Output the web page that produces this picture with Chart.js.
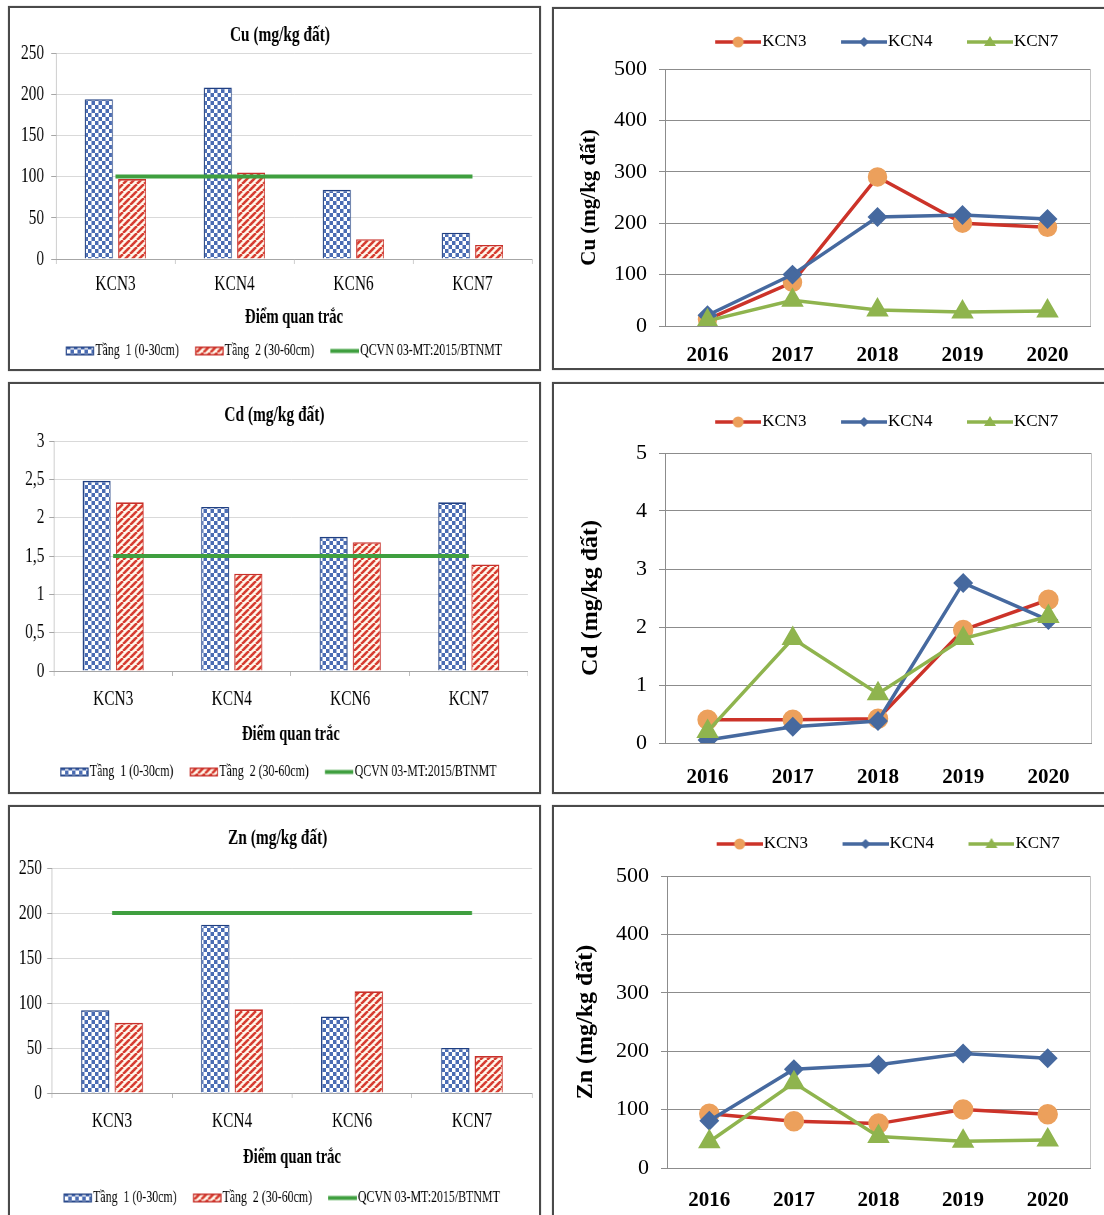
<!DOCTYPE html>
<html lang="vi">
<head>
<meta charset="utf-8">
<title>Hàm lượng Cu, Cd, Zn trong đất các KCN</title>
<script src="https://cdn.jsdelivr.net/npm/chart.js@4.4.1/dist/chart.umd.min.js"></script>
<style>
  html, body { margin: 0; padding: 0; background: #fff; width: 1104px; height: 1215px; overflow: hidden; }
  .panel { position: absolute; box-sizing: border-box; border: 2px solid #4a4a4a; box-shadow: 0 0 1px #9a9a9a; background: #fff; }
  canvas { position: absolute; }
  /* the layer charts use a narrow lettering: drawn wide, then condensed */
  canvas.narrow { transform: scaleX(0.7); transform-origin: 0 0; }
</style>
</head>
<body>
<div class="panel" style="left:8px;top:6px;width:533px;height:365px"></div>
<div class="panel" style="left:552px;top:7px;width:560px;height:363px"></div>
<div class="panel" style="left:8px;top:382px;width:533px;height:412px"></div>
<div class="panel" style="left:552px;top:382px;width:560px;height:412px"></div>
<div class="panel" style="left:8px;top:805px;width:533px;height:430px"></div>
<div class="panel" style="left:552px;top:805px;width:560px;height:430px"></div>

<canvas id="cuBar" class="narrow" width="764" height="361" style="left:11px;top:9px"></canvas>
<canvas id="cuTrend" width="635" height="376" style="left:553px;top:9px"></canvas>
<canvas id="cdBar" class="narrow" width="739" height="406" style="left:11px;top:385px"></canvas>
<canvas id="cdTrend" width="635" height="428" style="left:553px;top:384px"></canvas>
<canvas id="znBar" class="narrow" width="758" height="409" style="left:11px;top:808px"></canvas>
<canvas id="znTrend" width="638" height="425" style="left:553px;top:808px"></canvas>

<script>
const SERIF = "'Liberation Serif', 'Times New Roman', Times, serif";

// monitoring sites and years
const sites = ['KCN3', 'KCN4', 'KCN6', 'KCN7'];
const years = ['2016', '2017', '2018', '2019', '2020'];

// content by soil layer at each site (mg/kg soil)
const cuLayer1 = [194, 208, 84, 32];
const cuLayer2 = [97, 105, 24, 17];
const cuLimit  = [100, 100, 100, 100];
const cdLayer1 = [2.48, 2.14, 1.75, 2.20];
const cdLayer2 = [2.20, 1.27, 1.68, 1.39];
const cdLimit  = [1.5, 1.5, 1.5, 1.5];
const znLayer1 = [92, 187, 85, 50];
const znLayer2 = [78, 93, 113, 41];
const znLimit  = [200, 200, 200, 200];

// yearly values per site (mg/kg soil)
const cuKCN3 = [13, 85, 290, 200, 192];
const cuKCN4 = [21, 100, 212, 216, 208];
const cuKCN7 = [10, 50, 31, 27, 29];
const cdKCN3 = [0.40, 0.40, 0.42, 1.95, 2.47];
const cdKCN4 = [0.05, 0.28, 0.38, 2.76, 2.12];
const cdKCN7 = [0.20, 1.80, 0.85, 1.80, 2.18];
const znKCN3 = [93, 80, 76, 100, 92];
const znKCN4 = [81, 169, 177, 196, 188];
const znKCN7 = [45, 146, 54, 46, 48];

// legend texts
const layerNames = ['Tầng  1 (0-30cm)', 'Tầng  2 (30-60cm)', 'QCVN 03-MT:2015/BTNMT'];
const trendNames = ['KCN3', 'KCN4', 'KCN7'];

const BLUE_EDGE = '#1f3f82', BLUE_CELL = '#4a6cb3';
const RED_EDGE = '#c8302a', RED_STRIPE = '#d63b2f', CREAM = '#fff8ec';
const LIMIT_GREEN = '#3f9f3f';
const LINE_RED = '#cc3329', DOT_ORANGE = '#eca05c';
const LINE_BLUE = '#46699f', LINE_GREEN = '#8fb44e';

// fills for the condensed layer charts (tiles are drawn wide to stay square once condensed)
function checker(ctx) {
  const t = document.createElement('canvas'); t.width = 10; t.height = 8;
  const g = t.getContext('2d');
  g.fillStyle = '#ffffff'; g.fillRect(0, 0, 10, 8);
  g.fillStyle = BLUE_CELL; g.fillRect(0, 0, 5, 4); g.fillRect(5, 4, 5, 4);
  return ctx.createPattern(t, 'repeat');
}
function hatch(ctx) {
  const t = document.createElement('canvas'); t.width = 10; t.height = 7;
  const g = t.getContext('2d');
  g.fillStyle = CREAM; g.fillRect(0, 0, 10, 7);
  g.strokeStyle = RED_STRIPE; g.lineWidth = 3.0;
  for (let k = -1; k <= 1; k++) {
    g.beginPath(); g.moveTo(k * 10, 7); g.lineTo(k * 10 + 10, 0); g.stroke();
  }
  return ctx.createPattern(t, 'repeat');
}

// legend keys (the key sits in the right part so the text follows it closely)
function barKey(kind) {
  const c = document.createElement('canvas'); c.width = 59; c.height = 11;
  const g = c.getContext('2d');
  if (kind === 'line') {
    g.strokeStyle = LIMIT_GREEN; g.lineWidth = 4;
    g.beginPath(); g.moveTo(18, 5.5); g.lineTo(59, 5.5); g.stroke();
  } else {
    g.fillStyle = kind === 'checker' ? checker(g) : hatch(g);
    g.fillRect(19, 1.75, 39, 7.5);
    g.strokeStyle = kind === 'checker' ? BLUE_EDGE : RED_EDGE; g.lineWidth = 1.5;
    g.strokeRect(19, 1.75, 39, 7.5);
  }
  return c;
}
function trendKey(color, dot, shape) {
  const c = document.createElement('canvas'); c.width = 76; c.height = 20;
  const g = c.getContext('2d');
  g.strokeStyle = color; g.lineWidth = 3.5;
  g.beginPath(); g.moveTo(30, 10); g.lineTo(76, 10); g.stroke();
  g.fillStyle = dot;
  g.beginPath();
  if (shape === 'circle') g.arc(53, 10, 5.5, 0, Math.PI * 2);
  else if (shape === 'diamond') { g.moveTo(53, 5); g.lineTo(58, 10); g.lineTo(53, 15); g.lineTo(48, 10); g.closePath(); }
  else { g.moveTo(53, 4); g.lineTo(59, 14); g.lineTo(47, 14); g.closePath(); }
  g.fill();
  return c;
}

const barKeys = [barKey('checker'), barKey('hatch'), barKey('line')];
const trendKeys = [
  trendKey(LINE_RED, DOT_ORANGE, 'circle'),
  trendKey(LINE_BLUE, LINE_BLUE, 'diamond'),
  trendKey(LINE_GREEN, LINE_GREEN, 'triangle')
];

Chart.defaults.font.family = SERIF;
Chart.defaults.color = '#000';

const plotEdge = {
  id: 'plotEdge',
  beforeDatasetsDraw(chart) {
    const { ctx, chartArea: a } = chart;
    ctx.save();
    ctx.strokeStyle = '#c4c4c4'; ctx.lineWidth = 1;
    ctx.beginPath(); ctx.moveTo(a.right + 0.5, a.top); ctx.lineTo(a.right + 0.5, a.bottom); ctx.stroke();
    ctx.restore();
  }
};

function gutterAxis(w) {
  return {
    type: 'linear', position: 'right', display: true,
    grid: { display: false, drawTicks: false }, border: { display: false },
    ticks: { display: false },
    afterFit(s) { s.width = w; }
  };
}

function barChart(id, o) {
  const ctx = document.getElementById(id).getContext('2d');
  return new Chart(ctx, {
    type: 'bar',
    data: {
      labels: sites,
      datasets: [
        { label: layerNames[0], data: o.layer1, backgroundColor: checker(ctx), borderColor: BLUE_EDGE, borderWidth: 1.6,
          categoryPercentage: 0.56, barPercentage: 0.84, order: 1, xAxisID: 'x', yAxisID: 'y' },
        { label: layerNames[1], data: o.layer2, backgroundColor: hatch(ctx), borderColor: RED_EDGE, borderWidth: 1.6,
          categoryPercentage: 0.56, barPercentage: 0.84, order: 1, xAxisID: 'x', yAxisID: 'y' },
        { type: 'line', label: layerNames[2], data: o.limit, borderColor: LIMIT_GREEN, borderWidth: 4,
          pointRadius: 0, fill: false, order: 0, xAxisID: 'x', yAxisID: 'y' }
      ]
    },
    options: {
      responsive: false, animation: false, devicePixelRatio: 1, events: [],
      layout: { padding: o.pad },
      plugins: {
        title: { display: true, text: o.title, color: '#000',
          font: { family: SERIF, size: 22, weight: 'bold' }, padding: o.titlePad },
        legend: {
          position: 'bottom',
          labels: {
            usePointStyle: true, pointStyleWidth: 45, padding: 12, color: '#000',
            font: { family: SERIF, size: 17 },
            generateLabels: (chart) => chart.data.datasets.map((ds, i) => ({
              text: ds.label, pointStyle: barKeys[i], fillStyle: '#fff', strokeStyle: '#fff',
              lineWidth: 0, hidden: false, datasetIndex: i
            }))
          }
        },
        tooltip: { enabled: false }
      },
      scales: {
        x: {
          grid: { display: true, drawOnChartArea: false, drawTicks: true, tickLength: 5, color: '#a6a6a6' },
          border: { color: '#a6a6a6' },
          ticks: { padding: o.xTickPad, font: { family: SERIF, size: 22 }, color: '#000' },
          title: { display: true, text: 'Điểm quan trắc', color: '#000',
            font: { family: SERIF, size: 21, weight: 'bold' }, padding: o.xTitlePad }
        },
        y: {
          min: 0, max: o.max,
          ticks: { stepSize: o.step, padding: o.yTickPad, font: { family: SERIF, size: 22 }, color: '#000',
            callback: (v) => String(v).replace('.', ',') },
          grid: { color: '#d9d9d9', tickColor: '#a6a6a6', tickLength: 7 },
          border: { color: '#a6a6a6' }
        },
        gutter: gutterAxis(o.gutter)
      }
    }
  });
}

function lineChart(id, o) {
  const ctx = document.getElementById(id).getContext('2d');
  const common = { borderWidth: 3.5, tension: 0, fill: false, xAxisID: 'x', yAxisID: 'y' };
  return new Chart(ctx, {
    type: 'line',
    data: {
      labels: years,
      datasets: [
        Object.assign({ label: trendNames[0], data: o.kcn3, borderColor: LINE_RED, backgroundColor: DOT_ORANGE,
          pointBackgroundColor: DOT_ORANGE, pointBorderColor: DOT_ORANGE, pointStyle: 'circle', pointRadius: o.dot, order: 3 }, common),
        Object.assign({ label: trendNames[1], data: o.kcn4, borderColor: LINE_BLUE, backgroundColor: LINE_BLUE,
          pointBackgroundColor: LINE_BLUE, pointBorderColor: LINE_BLUE, pointStyle: 'rectRot', pointRadius: 7.5, order: 2 }, common),
        Object.assign({ label: trendNames[2], data: o.kcn7, borderColor: LINE_GREEN, backgroundColor: LINE_GREEN,
          pointBackgroundColor: LINE_GREEN, pointBorderColor: LINE_GREEN, pointStyle: 'triangle', pointRadius: 9.5, order: 1 }, common)
      ]
    },
    options: {
      responsive: false, animation: false, devicePixelRatio: 1, events: [],
      layout: { padding: { left: 10, top: o.top, right: 0, bottom: 0 } },
      plugins: {
        legend: {
          position: 'top', weight: 3000,
          labels: {
            usePointStyle: true, pointStyleWidth: 61, padding: 12, color: '#000',
            font: { family: SERIF, size: 17 },
            generateLabels: (chart) => chart.data.datasets.map((ds, i) => ({
              text: ds.label, pointStyle: trendKeys[i], fillStyle: ds.borderColor, strokeStyle: ds.borderColor,
              lineWidth: 0, hidden: false, datasetIndex: i
            }))
          }
        },
        subtitle: { display: true, text: '', font: { size: 1, lineHeight: 1 }, padding: { top: o.gap, bottom: 0 } },
        title: { display: false },
        tooltip: { enabled: false }
      },
      scales: {
        x: {
          offset: true,
          grid: { display: false, drawTicks: false },
          border: { color: '#8c8c8c' },
          ticks: { padding: o.xTickPad, font: { family: SERIF, size: 21, weight: 'bold' }, color: '#000' }
        },
        y: {
          min: 0, max: o.max,
          ticks: { stepSize: o.step, padding: 12, font: { family: SERIF, size: 22 }, color: '#000' },
          grid: { color: '#8c8c8c', tickLength: 6 },
          border: { color: '#8c8c8c' },
          title: { display: true, text: o.yTitle, color: '#000',
            font: { family: SERIF, size: o.yTitleSize, weight: 'bold' }, padding: o.yTitlePad }
        },
        gutter: gutterAxis(o.gutter)
      }
    },
    plugins: [plotEdge]
  });
}

barChart('cuBar', {
  title: 'Cu (mg/kg đất)', layer1: cuLayer1, layer2: cuLayer2, limit: cuLimit, max: 250, step: 50,
  pad: { left: 4.3, right: 0, top: 0, bottom: 0.5 }, titlePad: { top: 12.8, bottom: 4.8 },
  xTickPad: 7.4, xTitlePad: { top: 0, bottom: 0.1 }, yTickPad: 10, gutter: 19.7
});
barChart('cdBar', {
  title: 'Cd (mg/kg đất)', layer1: cdLayer1, layer2: cdLayer2, limit: cdLimit, max: 3, step: 0.5,
  pad: { left: 13.7, right: 0, top: 0, bottom: 0.5 }, titlePad: { top: 16.8, bottom: 12.8 },
  xTickPad: 10, xTitlePad: { top: 0, bottom: 3.9 }, yTickPad: 6.6, gutter: 0.5
});
barChart('znBar', {
  title: 'Zn (mg/kg đất)', layer1: znLayer1, layer2: znLayer2, limit: znLimit, max: 250, step: 50,
  pad: { left: 4, right: 0, top: 0, bottom: 0.5 }, titlePad: { top: 16.8, bottom: 16.8 },
  xTickPad: 10.5, xTitlePad: { top: 0, bottom: 6.9 }, yTickPad: 7.3, gutter: 13.7
});

lineChart('cuTrend', {
  kcn3: cuKCN3, kcn4: cuKCN4, kcn7: cuKCN7, max: 500, step: 100, dot: 8,
  top: 12.5, gap: 7.5, xTickPad: 16.9,
  yTitle: 'Cu (mg/kg đất)', yTitleSize: 21, yTitlePad: { top: 13.8, bottom: 0 }, gutter: 98
});
lineChart('cdTrend', {
  kcn3: cdKCN3, kcn4: cdKCN4, kcn7: cdKCN7, max: 5, step: 1, dot: 8.5,
  top: 17.5, gap: 11.5, xTickPad: 21.9,
  yTitle: 'Cd (mg/kg đất)', yTitleSize: 24, yTitlePad: { top: 13.6, bottom: 18.6 }, gutter: 97
});
lineChart('znTrend', {
  kcn3: znKCN3, kcn4: znKCN4, kcn7: znKCN7, max: 500, step: 100, dot: 8.5,
  top: 15.5, gap: 12.5, xTickPad: 19.9,
  yTitle: 'Zn (mg/kg đất)', yTitleSize: 24, yTitlePad: { top: 8.6, bottom: 3.6 }, gutter: 101
});
</script>
</body>
</html>
